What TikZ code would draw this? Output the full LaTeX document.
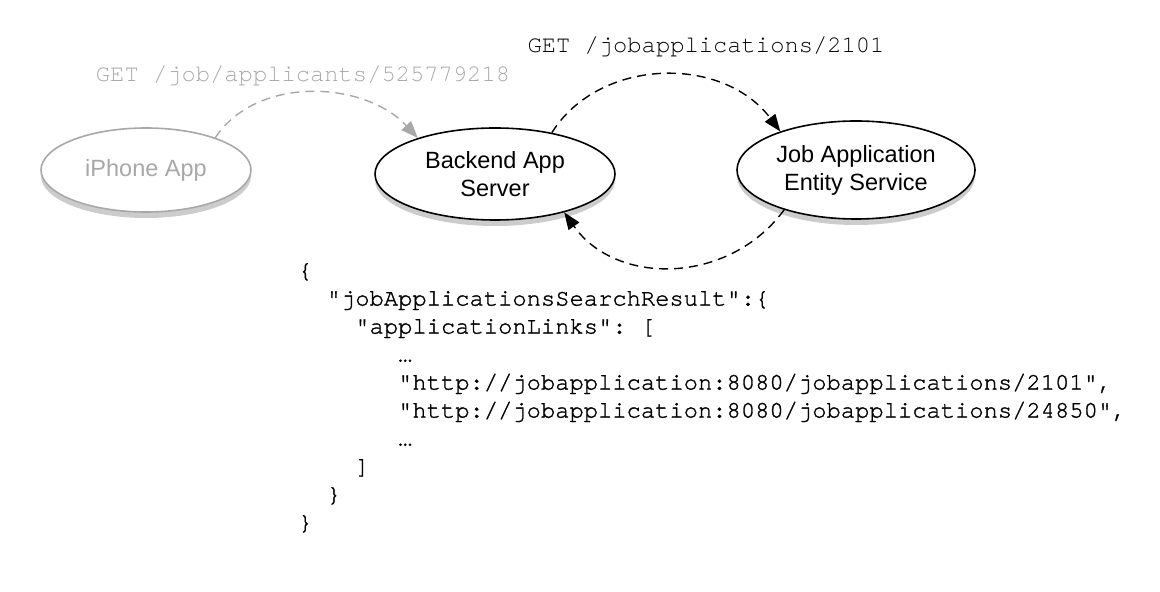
\documentclass[tikz,border=0pt]{standalone}
\usepackage{fontspec}
\setmainfont{Liberation Sans}
\setmonofont{TeX Gyre Cursor}
\newfontfamily\jsonfont[FakeBold=1.3]{TeX Gyre Cursor}
\usetikzlibrary{shapes.geometric,shadows,arrows.meta}

\definecolor{faded}{HTML}{A8A8A8}

\tikzset{
  service/.style={ellipse, draw, line width=1.6pt, fill=white, align=center,
    inner sep=0pt, font=\fontsize{23.5}{28}\selectfont,
    drop shadow={shadow xshift=0pt, shadow yshift=-6pt, opacity=.4}},
  call/.style={dash pattern=on 9pt off 6pt, line width=1.4pt,
    -{Triangle[length=17pt,width=13pt]}},
  url/.style={inner sep=0pt, font=\ttfamily\fontsize{23.8}{28}\selectfont}
}

\begin{document}
\begin{tikzpicture}[x=1pt,y=1pt]
  \useasboundingbox (0,0) rectangle (1160,592);

  % services
  \node[service, draw=faded, text=faded, minimum width=210pt, minimum height=84pt] (iphone) at (146,422) {iPhone App};
  \node[service, minimum width=240pt, minimum height=92pt] (backend) at (495,418) {Backend App\\Server};
  \node[service, minimum width=238pt, minimum height=98pt] (jobsvc) at (856,422) {Job Application\\Entity Service};

  % requests
  \node[url, text=faded] (getapplicant) at (303,516) {GET /job/applicants/525779218};
  \node[url] (getapplication) at (706,545) {GET /jobapplications/2101};

  \draw[call, faded] (iphone.25) .. controls +(42,63) and +(-53,57) .. (backend.155);
  \draw[call] (backend.36) .. controls +(47,75) and +(-58,77) .. (jobsvc.153);
  \draw[call] (jobsvc.209) .. controls +(-55,-75) and +(52,-74) .. (backend.331);

  % response body
  \node[url, font=\jsonfont\fontsize{23.8}{28}\selectfont, align=left, anchor=north west] (json) at (298,329) {\{\\
\hphantom{xx}"jobApplicationsSearchResult":\{\\
\hphantom{xxxx}"applicationLinks":\hphantom{x}[\\
\hphantom{xxxxxxx}…\\
\hphantom{xxxxxxx}"http://jobapplication:8080/jobapplications/2101",\\
\hphantom{xxxxxxx}"http://jobapplication:8080/jobapplications/24850",\\
\hphantom{xxxxxxx}…\\
\hphantom{xxxx}]\\
\hphantom{xx}\}\\
\}};
\end{tikzpicture}
\end{document}
